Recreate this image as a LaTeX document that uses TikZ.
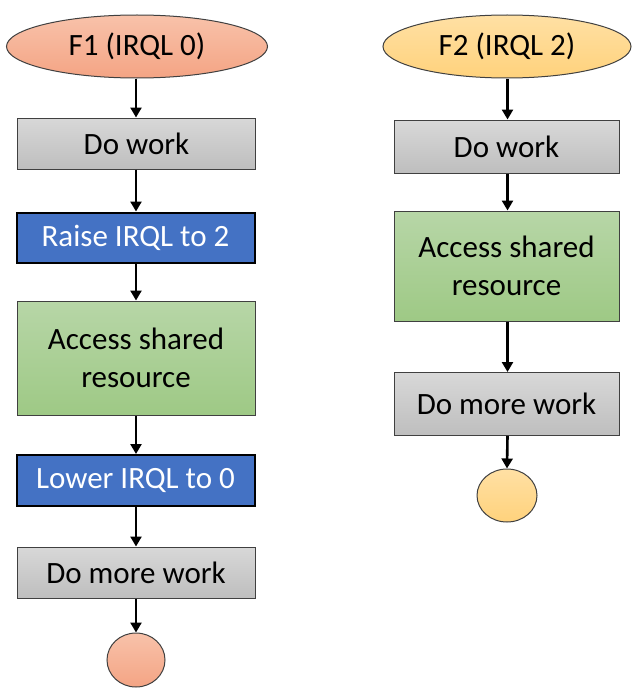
\documentclass[tikz,border=0pt]{standalone}
\usepackage{fontspec}
\setmainfont{Carlito}
\usetikzlibrary{shapes.geometric,arrows.meta}
\definecolor{grayTop}{RGB}{216,216,216}
\definecolor{grayBot}{RGB}{190,190,190}
\definecolor{greenTop}{RGB}{183,214,167}
\definecolor{greenBot}{RGB}{158,201,133}
\definecolor{orTop}{RGB}{248,194,170}
\definecolor{orBot}{RGB}{244,164,132}
\definecolor{yeTop}{RGB}{255,224,164}
\definecolor{yeBot}{RGB}{255,210,124}
\definecolor{blueBox}{RGB}{68,114,196}
\definecolor{edgeGray}{RGB}{64,64,64}
\tikzset{
  txt/.style={font=\fontsize{31}{38}\selectfont, align=center, inner sep=0pt},
  graybox/.style={txt, draw=edgeGray, line width=1pt, rectangle, top color=grayTop, bottom color=grayBot},
  greenbox/.style={txt, draw=edgeGray, line width=1pt, rectangle, top color=greenTop, bottom color=greenBot},
  bluebox/.style={txt, draw=black, line width=2pt, rectangle, fill=blueBox, text=white},
  startF1/.style={txt, draw=edgeGray, line width=1pt, ellipse, top color=orTop, bottom color=orBot},
  startF2/.style={txt, draw=edgeGray, line width=1pt, ellipse, top color=yeTop, bottom color=yeBot},
  flow/.style={line width=2.6pt, -{Triangle[width=11pt,length=10pt]}}
}
\begin{document}
\begin{tikzpicture}[x=1pt,y=-1pt]
\useasboundingbox (0,0) rectangle (634,693);
% left column
\node[startF1, minimum width=261pt, minimum height=63pt] (f1) at (137,46.5) {F1 (IRQL 0)};
\node[graybox, minimum width=238pt, minimum height=51pt] (dw1) at (136.5,143.5) {Do work};
\node[bluebox, minimum width=238pt, minimum height=50pt] (raise) at (135.5,237.5) {Raise IRQL to 2};
\node[greenbox, minimum width=238pt, minimum height=114pt] (acc1) at (136,358) {Access shared\\resource};
\node[bluebox, minimum width=238pt, minimum height=51pt] (lower) at (135.5,480.5) {Lower IRQL to 0};
\node[graybox, minimum width=238pt, minimum height=51pt] (more1) at (136,572.5) {Do more work};
\node[draw=edgeGray, line width=1pt, ellipse, top color=orTop, bottom color=orBot, minimum width=58pt, minimum height=54pt, inner sep=0pt] (end1) at (136,660) {};
% right column
\node[startF2, minimum width=248pt, minimum height=63pt] (f2) at (507,46.5) {F2 (IRQL 2)};
\node[graybox, minimum width=225pt, minimum height=53pt] (dw2) at (506.5,146.5) {Do work};
\node[greenbox, minimum width=225pt, minimum height=110pt] (acc2) at (506.5,266) {Access shared\\resource};
\node[graybox, minimum width=225pt, minimum height=63pt] (more2) at (506.5,404) {Do more work};
\node[draw=edgeGray, line width=1pt, ellipse, top color=yeTop, bottom color=yeBot, minimum width=60pt, minimum height=53pt, inner sep=0pt] (end2) at (507,495.5) {};
% connectors
\draw[flow] (f1.south -| 136,0) -- (dw1.north -| 136,0);
\draw[flow] (dw1.south -| 136,0) -- (raise.north -| 136,0);
\draw[flow] (raise.south -| 136,0) -- (acc1.north -| 136,0);
\draw[flow] (acc1.south -| 136,0) -- (lower.north -| 136,0);
\draw[flow] (lower.south -| 136,0) -- (more1.north -| 136,0);
\draw[flow] (more1.south -| 136,0) -- (end1.north);
\draw[flow] (f2.south -| 507.5,0) -- (dw2.north -| 507.5,0);
\draw[flow] (dw2.south -| 507.5,0) -- (acc2.north -| 507.5,0);
\draw[flow] (acc2.south -| 507.5,0) -- (more2.north -| 507.5,0);
\draw[flow] (more2.south -| 507.5,0) -- (end2.north);
\end{tikzpicture}
\end{document}
